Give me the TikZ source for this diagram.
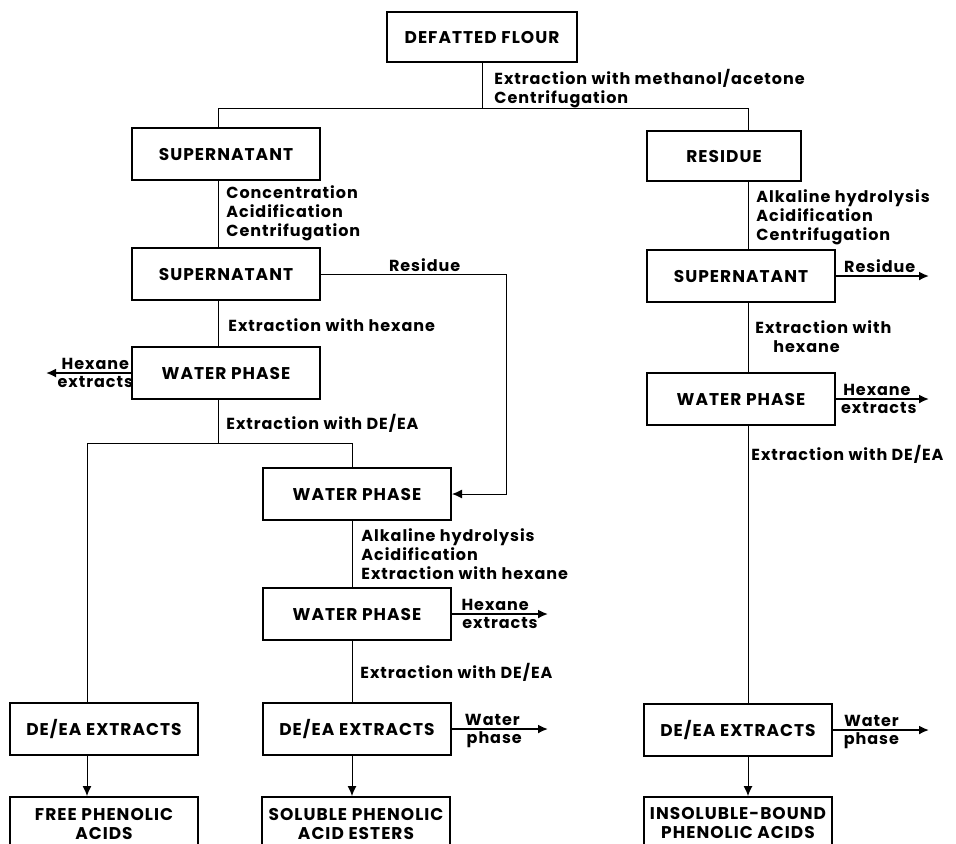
\documentclass[tikz,border=0pt]{standalone}
\usepackage{fontspec}
\setmainfont{Poppins}[LetterSpace=6]
\usetikzlibrary{arrows.meta}

\tikzset{
  stage/.style={draw, line width=1pt, minimum width=94pt, minimum height=26pt, inner sep=1pt,
    align=center, font=\bfseries\fontsize{8.5}{9.3}\selectfont},
  note/.style={inner sep=1pt, align=left, font=\bfseries\fontsize{8}{9.5}\selectfont},
  flow/.style={line width=0.5pt},
  drop/.style={-{Latex[length=5pt,width=4.5pt]}},
  sidearrow/.style={line width=0.9pt, -{Latex[length=5pt,width=4.5pt]}}
}

\begin{document}
\begin{tikzpicture}[x=0.5pt, y=-0.5pt]

      \clip (0,0) rectangle (956,843);

      \node [stage, minimum width=95pt, minimum height=25pt] (flour) at (482,37) {DEFATTED FLOUR};
      \node [stage] (sup1) at (226,154) {SUPERNATANT};
      \node [stage] (sup2) at (226,274) {SUPERNATANT};
      \node [stage] (wat1) at (226,373) {WATER PHASE};
      \node [stage] (wat2) at (357,494) {WATER PHASE};
      \node [stage] (wat3) at (357,614) {WATER PHASE};
      \node [stage] (dea2) at (357,729) {DE/EA EXTRACTS};
      \node [stage, minimum height=27pt] (ester) at (356,824) {SOLUBLE PHENOLIC\\ACID ESTERS};
      \node [stage] (dea1) at (104,729) {DE/EA EXTRACTS};
      \node [stage, minimum height=27pt] (free) at (104,824) {FREE PHENOLIC\\ACIDS};
      \node [stage, minimum width=77pt, minimum height=25pt] (res) at (724,156) {RESIDUE};
      \node [stage] (sup3) at (741,276) {SUPERNATANT};
      \node [stage] (wat4) at (741,399) {WATER PHASE};
      \node [stage] (dea3) at (738,730) {DE/EA EXTRACTS};
      \node [stage, minimum height=26pt] (bound) at (738,823) {INSOLUBLE-BOUND\\PHENOLIC ACIDS};

      \coordinate (split) at (482,108);
      \coordinate (fork) at (218,443);
      \coordinate (lcol) at (218,0);
      \coordinate (mcol) at (352,0);
      \coordinate (fcol) at (87,0);
      \coordinate (rcol) at (748,0);
      \coordinate (loop) at (506,0);
      \coordinate (lend) at (46,0);
      \coordinate (mend) at (548,0);
      \coordinate (rend) at (929,0);

      \draw [flow] (flour.south) -- (split) ;
      \draw [flow] (lcol |- split) -- (rcol |- split) ;
      \draw [flow] (lcol |- split) -- (lcol |- sup1.north) ;
      \draw [flow] (rcol |- split) -- (rcol |- res.north) ;

      \draw [flow] (lcol |- sup1.south) -- (lcol |- sup2.north) ;
      \draw [flow] (lcol |- sup2.south) -- (lcol |- wat1.north) ;
      \draw [flow] (lcol |- wat1.south) -- (fork) ;
      \draw [flow] (fcol |- fork) -- (mcol |- fork) ;
      \draw [flow] (fcol |- fork) -- (fcol |- dea1.north) ;
      \draw [flow] (mcol |- fork) -- (mcol |- wat2.north) ;
      \draw [flow, drop] (sup2.east) -- node [note, above, pos=0.56] (resl) {Residue} (loop |- sup2.east)
        -- (loop |- wat2.east) -- (wat2.east) ;

      \draw [flow] (mcol |- wat2.south) -- (mcol |- wat3.north) ;
      \draw [flow] (mcol |- wat3.south) -- (mcol |- dea2.north) ;
      \draw [flow, drop] (mcol |- dea2.south) -- (mcol |- ester.north) ;
      \draw [flow, drop] (fcol |- dea1.south) -- (fcol |- free.north) ;

      \draw [flow] (rcol |- res.south) -- (rcol |- sup3.north) ;
      \draw [flow] (rcol |- sup3.south) -- (rcol |- wat4.north) ;
      \draw [flow] (rcol |- wat4.south) -- (rcol |- dea3.north) ;
      \draw [flow, drop] (rcol |- dea3.south) -- (rcol |- bound.north) ;

      \draw [sidearrow] (wat1.west) -- node [note, above, pos=0.42] (hexa1) {Hexane}
        node [note, below, pos=0.42] (hexb1) {extracts} (lend |- wat1.west) ;
      \draw [sidearrow] (wat3.east) -- node [note, above, pos=0.45] (hexa2) {Hexane}
        node [note, below, pos=0.5] (hexb2) {extracts} (mend |- wat3.east) ;
      \draw [sidearrow] (dea2.east) -- node [note, above, pos=0.42] (wata2) {Water}
        node [note, below, pos=0.44] (watb2) {phase} (mend |- dea2.east) ;
      \draw [sidearrow] (sup3.east) -- node [note, above, pos=0.47] (resr) {Residue} (rend |- sup3.east) ;
      \draw [sidearrow] (wat4.east) -- node [note, above, pos=0.44] (hexa3) {Hexane}
        node [note, below, pos=0.46] (hexb3) {extracts} (rend |- wat4.east) ;
      \draw [sidearrow] (dea3.east) -- node [note, above, pos=0.4] (wata3) {Water}
        node [note, below, pos=0.4] (watb3) {phase} (rend |- dea3.east) ;

      \node [note, anchor=west] (l1) at (492,89) {Extraction with methanol/acetone\\Centrifugation};
      \node [note, anchor=west] (l2) at (224,213) {Concentration\\Acidification\\Centrifugation};
      \node [note, anchor=west] (l3) at (226,325) {Extraction with hexane};
      \node [note, anchor=west] (l4) at (224,423) {Extraction with DE/EA};
      \node [note, anchor=west] (l5) at (359,554) {Alkaline hydrolysis\\Acidification\\Extraction with hexane};
      \node [note, anchor=west] (l6) at (358,672) {Extraction with DE/EA};
      \node [note, anchor=west] (l7) at (754,217) {Alkaline hydrolysis\\Acidification\\Centrifugation};
      \node [note, anchor=west] (l8) at (753,337) {Extraction with\\\hspace*{9pt}hexane};
      \node [note, anchor=west] (l9) at (749,454) {Extraction with DE/EA};

    \end{tikzpicture}
\end{document}
